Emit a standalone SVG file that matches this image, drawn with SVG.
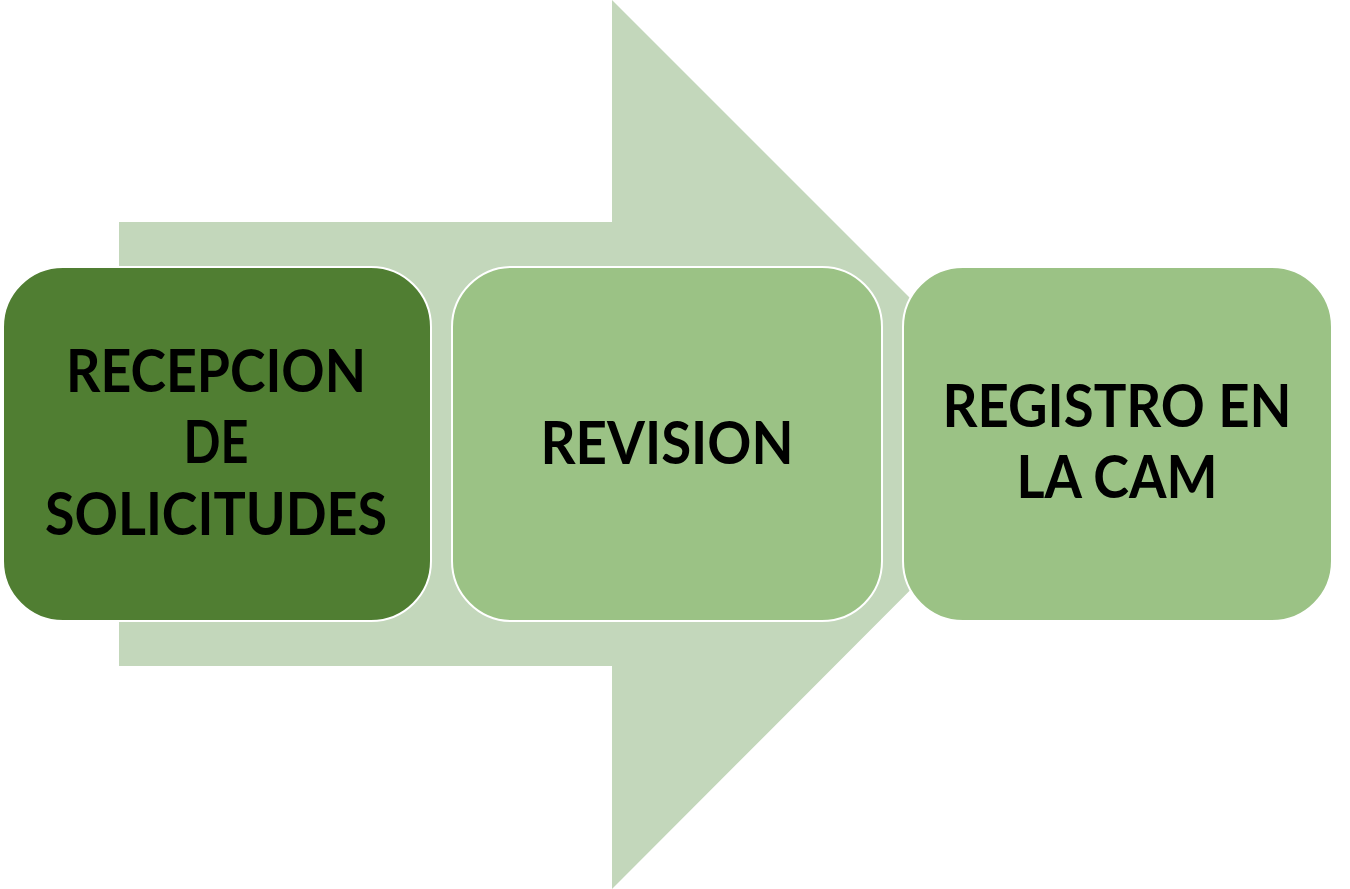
<svg xmlns="http://www.w3.org/2000/svg" width="1350" height="889" viewBox="0 0 1350 889">
<style>
.box{stroke:#ffffff;stroke-width:2}
.lbl{font-family:Lato,"Open Sans","Liberation Sans",sans-serif;font-weight:bold;font-size:59px;fill:#000000;text-anchor:middle}
</style>
<rect width="1350" height="889" fill="#ffffff"/>
<g id="arrow">
<polygon points="119,222 612,222 612,0 1056,444 612,889 612,666 119,666" fill="#C3D7BB"/>
</g>
<g id="node1">
<rect class="box" x="3" y="267" width="428" height="354" rx="60" ry="60" fill="#507E32"/>
<text class="lbl" x="216" y="392" textLength="300" lengthAdjust="spacingAndGlyphs">RECEPCION</text>
<text class="lbl" x="216" y="463" textLength="65" lengthAdjust="spacingAndGlyphs">DE</text>
<text class="lbl" x="216" y="535" textLength="342" lengthAdjust="spacingAndGlyphs">SOLICITUDES</text>
</g>
<g id="node2">
<rect class="box" x="452" y="267" width="430" height="354" rx="60" ry="60" fill="#9BC285"/>
<text class="lbl" x="667" y="464" textLength="253" lengthAdjust="spacingAndGlyphs">REVISION</text>
</g>
<g id="node3">
<rect class="box" x="903" y="267" width="429" height="354" rx="60" ry="60" fill="#9BC285"/>
<text class="lbl" x="1117" y="427" textLength="349" lengthAdjust="spacingAndGlyphs">REGISTRO EN</text>
<text class="lbl" x="1117" y="498" textLength="201" lengthAdjust="spacingAndGlyphs">LA CAM</text>
</g>
<g id="connectors"></g>
</svg>
